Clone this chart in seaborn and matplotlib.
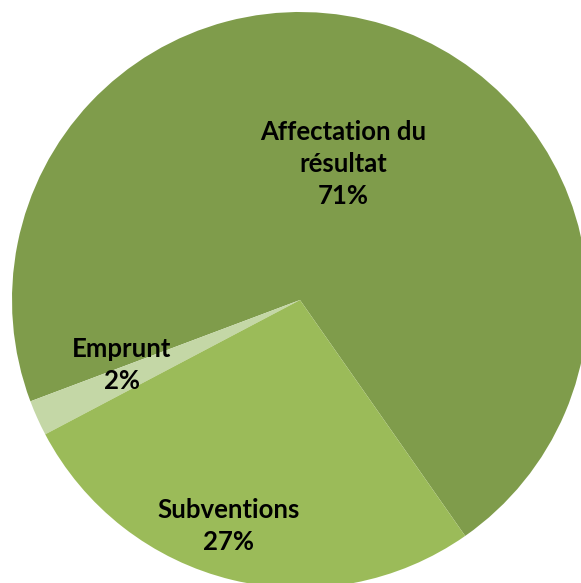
import matplotlib
matplotlib.use('Agg')
import matplotlib.pyplot as plt
import seaborn as sns

# data
labels = ['Affectation du\nrésultat', 'Emprunt', 'Subventions']
values = [71, 2, 27]
colors = ['#7F9C4B', '#C4D7A6', '#9BBB59']

sns.set_style('white')
plt.rcParams['font.family'] = ['Lato', 'DejaVu Sans']

fig = plt.figure(figsize=(5.81, 5.83), dpi=100)
ax = fig.add_axes([0, 0, 1, 1])

ax.pie(values, colors=colors, startangle=-55, radius=1,
       wedgeprops=dict(linewidth=0))

# place pie so its center lands near (300, 300) px with radius ~288 px
r_px = 288
ax.set_xlim(-300 / r_px, (581 - 300) / r_px)
ax.set_ylim(-(583 - 300) / r_px, 300 / r_px)
ax.set_aspect('auto')
ax.axis('off')

# label positions (px in image)
label_px = [(343, 164), (122, 365), (229, 526)]
for lab, v, (px, py) in zip(labels, values, label_px):
    ax.text((px - 300) / r_px, (300 - py) / r_px, f'{lab}\n{v}%',
            ha='center', va='center', fontsize=18.5, fontweight='bold',
            color='black', linespacing=1.42)

fig.savefig('out.png', dpi=100)
